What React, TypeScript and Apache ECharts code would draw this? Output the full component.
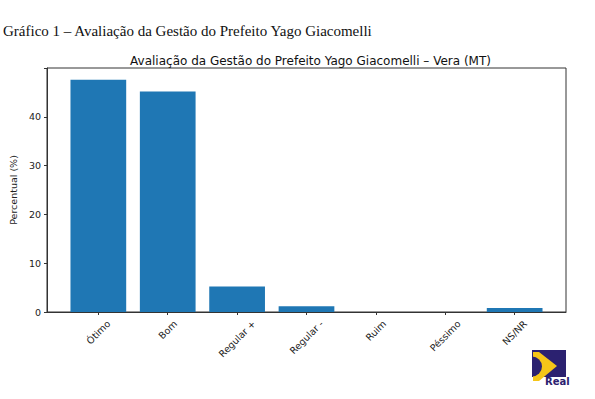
import React, { useEffect, useRef } from 'react';
import * as echarts from 'echarts';

const categories = ['Ótimo', 'Bom', 'Regular +', 'Regular -', 'Ruim', 'Péssimo', 'NS/NR'];
const values = [47.6, 45.2, 5.2, 1.2, 0, 0, 0.8];
const yTicks = [0, 10, 20, 30, 40];
const headerText = 'Gráfico 1 – Avaliação da Gestão do Prefeito Yago Giacomelli';
const titleText = 'Avaliação da Gestão do Prefeito Yago Giacomelli – Vera (MT)';
const yAxisName = 'Percentual (%)';
const logoText = 'Real';

const W = 595;
const H = 399;
const GRID = { left: 45, right: 29, top: 68, bottom: 87 };
const X_MIN = -0.74;
const X_MAX = 6.74;
const FONT = 'DejaVu Sans';
const TICK_FS = 9.5;

function measure(text: string, size: number, family: string): number {
  const c = document.createElement('canvas');
  const ctx = c.getContext('2d');
  if (!ctx) return text.length * size * 0.55;
  ctx.font = `${size}px '${family}'`;
  return ctx.measureText(text).width;
}

export default function App() {
  const ref = useRef<HTMLDivElement>(null);
  useEffect(() => {
    if (!ref.current) return;
    const chart = echarts.init(ref.current, undefined, { renderer: 'svg', width: W, height: H });
    const plotW = W - GRID.left - GRID.right;
    const unit = plotW / (X_MAX - X_MIN);
    const idx = categories.map((_, i) => i);
    const rich: Record<string, any> = {};
    categories.forEach((c, i) => {
      const w = measure(c, TICK_FS, FONT);
      const p = 0.5 * w;
      rich['c' + i] = {
        fontSize: TICK_FS,
        fontFamily: FONT,
        color: '#222',
        padding: [p, p, 0, 0],
      };
    });
    const navy = '#2b2170';
    chart.setOption({
      animation: false,
      backgroundColor: '#fff',
      title: {
        text: titleText,
        left: GRID.left + plotW / 2,
        textAlign: 'center',
        top: 50,
        textStyle: { fontFamily: FONT, fontSize: 12, fontWeight: 'normal', color: '#111' },
      },
      grid: {
        left: GRID.left,
        right: GRID.right,
        top: GRID.top,
        bottom: GRID.bottom,
        show: true,
        borderColor: '#333',
        borderWidth: 1,
        backgroundColor: 'transparent',
      },
      xAxis: {
        type: 'value',
        min: X_MIN,
        max: X_MAX,
        splitLine: { show: false },
        axisLine: { show: true, onZero: false, lineStyle: { color: '#333', width: 1 } },
        axisTick: { show: true, customValues: idx, length: 3, lineStyle: { color: '#333' } },
        axisLabel: {
          customValues: idx,
          rotate: 45,
          align: 'center',
          verticalAlign: 'middle',
          margin: 10,
          fontSize: TICK_FS,
          fontFamily: FONT,
          color: '#222',
          formatter: (v: number) => {
            const i = Math.round(v);
            return `{c${i}|${categories[i]}}`;
          },
          rich,
        },
      },
      yAxis: {
        type: 'value',
        min: 0,
        max: 50,
        interval: 10,
        name: yAxisName,
        nameLocation: 'middle',
        nameGap: 27,
        nameTextStyle: { fontFamily: FONT, fontSize: TICK_FS, color: '#222' },
        splitLine: { show: false },
        axisLine: { show: true, onZero: false, lineStyle: { color: '#333', width: 1 } },
        axisTick: { show: true, length: 3, lineStyle: { color: '#333' } },
        axisLabel: {
          margin: 6,
          fontSize: TICK_FS,
          fontFamily: FONT,
          color: '#222',
          formatter: (v: number) => (yTicks.includes(v) ? String(v) : ''),
        },
      },
      series: [
        {
          type: 'bar',
          data: values.map((v, i) => [i, v]),
          barWidth: 0.8 * unit,
          itemStyle: { color: '#1f77b4' },
        },
      ],
      graphic: [
        {
          type: 'text',
          left: 3,
          top: 23,
          style: {
            text: headerText,
            fontFamily: 'Liberation Serif',
            fontSize: 15,
            fill: '#111',
          },
        },
        {
          type: 'group',
          left: 532,
          top: 350,
          children: [
            { type: 'rect', shape: { x: 0, y: 0, width: 34, height: 27 }, style: { fill: navy } },
            {
              type: 'polygon',
              shape: { points: [[1, 2], [7, 2], [25, 16], [7, 31], [1, 31]] },
              style: { fill: '#f5c518' },
            },
            {
              type: 'sector',
              shape: { cx: 0, cy: 16.5, r0: 0, r: 10, startAngle: -Math.PI / 2, endAngle: Math.PI / 2 },
              style: { fill: navy },
            },
            {
              type: 'rect',
              shape: { x: 12, y: 27, width: 24, height: 10 },
              style: { fill: '#fff' },
            },
            {
              type: 'text',
              x: 13,
              y: 26,
              style: { text: logoText, fontFamily: FONT, fontSize: 10, fontWeight: 'bold', fill: navy },
            },
          ],
        },
      ],
    });
    return () => chart.dispose();
  }, []);
  return (
    <div
      ref={ref}
      style={{ position: 'absolute', left: 0, top: 0, width: W, height: H, background: '#fff' }}
    />
  );
}
